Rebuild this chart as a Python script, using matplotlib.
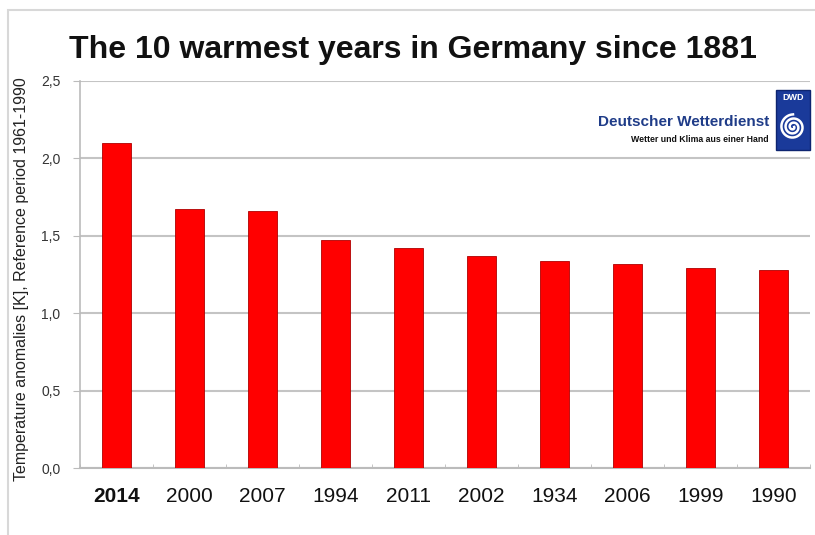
import numpy as np
import matplotlib
matplotlib.use("Agg")
import matplotlib.pyplot as plt
from matplotlib.patches import Rectangle

years = ["2014", "2000", "2007", "1994", "2011", "2002", "1934", "2006", "1999", "1990"]
anomalies = [2.10, 1.67, 1.66, 1.47, 1.42, 1.37, 1.34, 1.32, 1.29, 1.28]
yticks = [0.0, 0.5, 1.0, 1.5, 2.0, 2.5]
ytick_labels = ["0,0", "0,5", "1,0", "1,5", "2,0", "2,5"]

plt.rcParams['font.family'] = ['Liberation Sans', 'DejaVu Sans']

fig = plt.figure(figsize=(8.15, 5.35), dpi=100)
fig.patch.set_facecolor("white")

# light frame
fig.add_artist(Rectangle((8/815, -0.05), 1.2, 1 - 10/535 + 0.05, transform=fig.transFigure,
                         fill=False, edgecolor="#d8d8d8", lw=1.5))

ax = fig.add_axes([80/815, 1 - 468/535, 730/815, (468 - 81)/535])
x = np.arange(len(years))
ax.bar(x, anomalies, width=0.4, color="#ff0000", edgecolor="#b00000", linewidth=0.6, zorder=3)

ax.set_xlim(-0.5, len(years) - 0.5)
ax.set_ylim(0, 2.5)
ax.set_yticks(yticks)
ax.set_yticklabels(ytick_labels, fontsize=10, color="#333333")
ax.set_xticks(x)
ax.set_xticklabels(years, fontsize=15, color="#111111")
ax.get_xticklabels()[0].set_fontweight("bold")
ax.set_xticks(np.arange(-0.5, len(years), 1), minor=True)
ax.tick_params(axis="x", which="major", length=0, pad=14)
ax.tick_params(axis="x", which="minor", length=3, color="#bbbbbb", direction="in")
ax.tick_params(axis="y", length=5, color="#bbbbbb", pad=9)

ax.grid(axis="y", color="#c4c4c4", lw=1.5, zorder=0)
for s in ["top", "right"]:
    ax.spines[s].set_visible(False)
ax.spines["left"].set_color("#bbbbbb")
ax.spines["bottom"].set_color("#bbbbbb")
ax.spines["left"].set_linewidth(1.2)
ax.spines["bottom"].set_linewidth(1.5)

fig.text(22/815, 1 - 279/535, "Temperature anomalies [K], Reference period 1961-1990",
         rotation=90, ha="center", va="center", fontsize=11.5, color="#222222")

fig.text(413/815, 1 - 50/535, "The 10 warmest years in Germany since 1881",
         ha="center", va="center", fontsize=23, fontweight="heavy", color="#111111")

# logo box (white, covers gridlines)
fig.add_artist(Rectangle((585/815, 1 - 155/535), 228/815, 70/535, transform=fig.transFigure,
                         facecolor="white", edgecolor="none", zorder=5))
fig.text(769/815, 1 - 122/535, "Deutscher Wetterdienst", ha="right", va="center",
         fontsize=11, fontweight="bold", color="#1f3c88", zorder=6)
fig.text(769/815, 1 - 139/535, "Wetter und Klima aus einer Hand", ha="right", va="center",
         fontsize=6.3, fontweight="bold", color="#111111", zorder=6)
# DWD emblem
fig.add_artist(Rectangle((776/815, 1 - 150/535), 34/815, 60/535, transform=fig.transFigure,
                         facecolor="#1a3a9a", edgecolor="#0d2470", lw=1, zorder=6))
fig.text(793/815, 1 - 98/535, "DWD", ha="center", va="center", fontsize=6.5,
         fontweight="bold", color="white", zorder=7)
t = np.linspace(0, 5.5 * np.pi, 300)
r = 1.2 + 1.9 * t / t.max() * 6
cx, cy = 793, 127
xs = (cx + r * np.cos(t)) / 815
ys = 1 - (cy + r * np.sin(t)) / 535
fig.add_artist(plt.Line2D(xs, ys, transform=fig.transFigure, color="white", lw=1.8, zorder=7))

fig.savefig("out.png", dpi=100, facecolor="white")
